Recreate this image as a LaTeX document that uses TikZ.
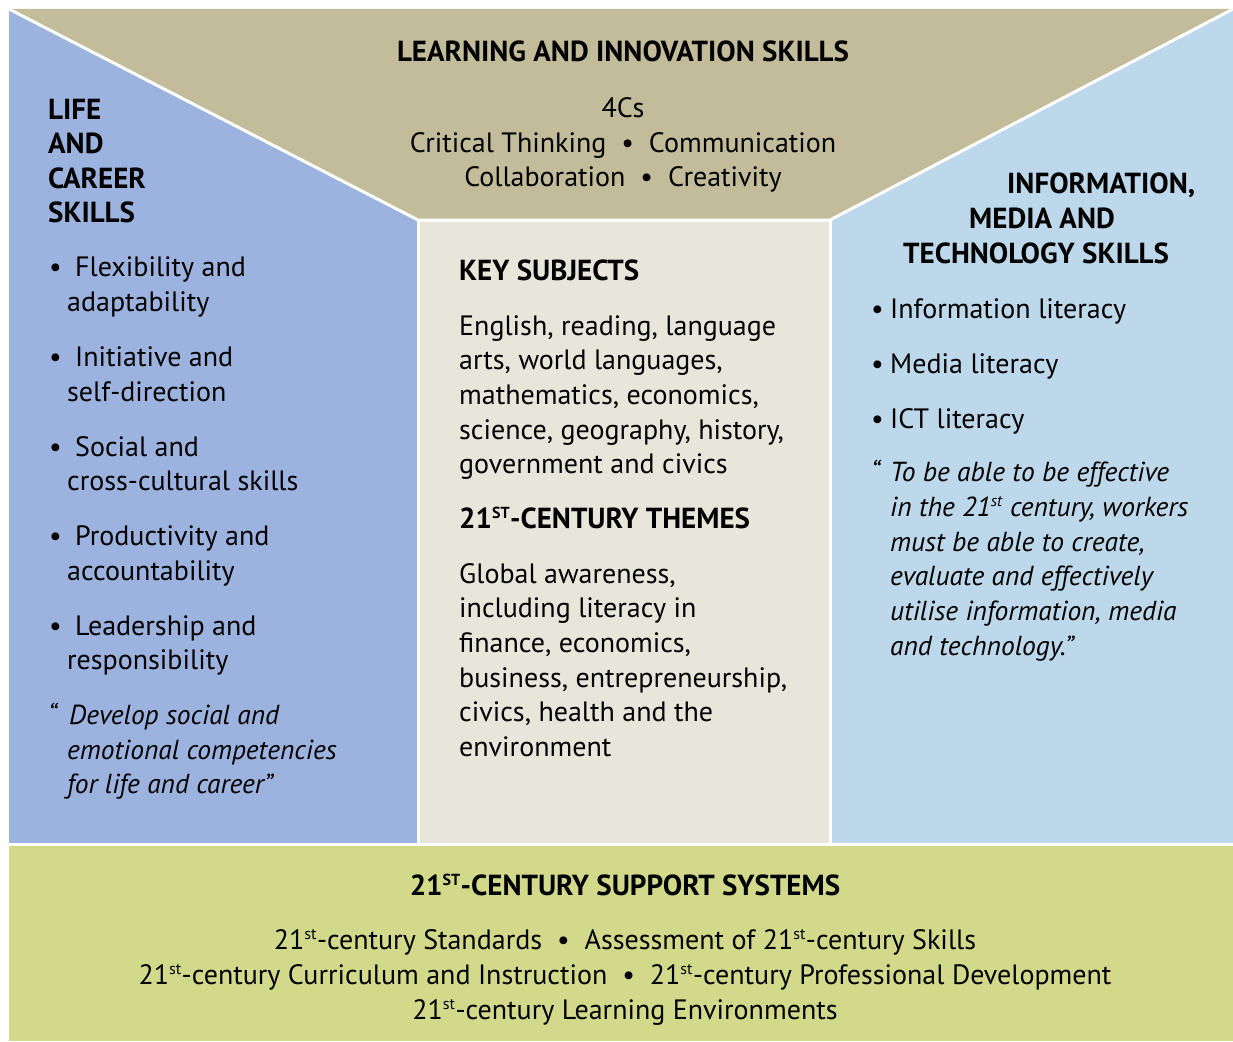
\documentclass[tikz,border=0pt]{standalone}
\usepackage{fontspec}
\setmainfont{PT Sans}
\definecolor{cLeft}{HTML}{9DB3DF}
\definecolor{cTop}{HTML}{C2BC9A}
\definecolor{cRight}{HTML}{BCD8EA}
\definecolor{cMid}{HTML}{E8E6DA}
\definecolor{cBot}{HTML}{D3D98A}
\newcommand{\sups}[1]{\textsuperscript{\fontsize{16}{16}\selectfont #1}}
\tikzset{
  txt/.style={anchor=base west, inner sep=0pt, font=\fontsize{28}{32}\selectfont},
  ctxt/.style={txt, anchor=base},
  hd/.style={txt, font=\fontsize{29}{32}\selectfont\bfseries},
  chd/.style={hd, anchor=base},
  itx/.style={txt, font=\fontsize{27.5}{32}\selectfont\itshape},
  sep/.style={white, line width=3pt}
}
\begin{document}
\begin{tikzpicture}[x=1pt,y=-1pt]
\useasboundingbox (0,0) rectangle (1233,1041);
% panels
\fill[cTop] (9,9) -- (1233,9) -- (830,220) -- (418,220) -- cycle;
\fill[cLeft] (9,9) -- (418,220) -- (418,845) -- (9,845) -- cycle;
\fill[cRight] (1233,9) -- (830,220) -- (830,845) -- (1233,845) -- cycle;
\fill[cMid] (418,220) rectangle (830,845);
\fill[cBot] (9,845) rectangle (1233,1041);
\draw[sep] (9,9) -- (418,220) -- (830,220) -- (1233,9);
\draw[sep] (418,220) -- (418,844.5);
\draw[sep] (830,220) -- (830,844.5);
\draw[sep] (9,844.5) -- (1233,844.5);

% top
\node[chd] (t0) at (623,62) {LEARNING AND INNOVATION SKILLS};
\node[ctxt] (t1) at (623,117) {4Cs};
\node[ctxt] (t2) at (623,152) {Critical Thinking \ \textbullet\ \ Communication};
\node[ctxt] (t3) at (623,186) {Collaboration \ \textbullet\ \ Creativity};

% left
\node[hd] (l0) at (48,119) {LIFE};
\node[hd] (l1) at (48,153) {AND};
\node[hd] (l2) at (48,188) {CAREER};
\node[hd] (l3) at (48,222) {SKILLS};
\node[txt] (lb1) at (49,276) {\textbullet};
\node[txt] (la1) at (75,276) {Flexibility and};
\node[txt] (lc1) at (67,311) {adaptability};
\node[txt] (lb2) at (49,366) {\textbullet};
\node[txt] (la2) at (75,366) {Initiative and};
\node[txt] (lc2) at (67,401) {self-direction};
\node[txt] (lb3) at (49,456) {\textbullet};
\node[txt] (la3) at (75,456) {Social and};
\node[txt] (lc3) at (67,490) {cross-cultural skills};
\node[txt] (lb4) at (49,545) {\textbullet};
\node[txt] (la4) at (75,545) {Productivity and};
\node[txt] (lc4) at (67,580) {accountability};
\node[txt] (lb5) at (49,635) {\textbullet};
\node[txt] (la5) at (75,635) {Leadership and};
\node[txt] (lc5) at (67,669) {responsibility};
\node[itx] (lq0) at (48,724) {“};
\node[itx] (lq1) at (69,724) {Develop social and};
\node[itx] (lq2) at (67,759) {emotional competencies};
\node[itx] (lq3) at (67,793) {for life and career”};

% middle
\node[hd] (m0) at (459,280) {KEY SUBJECTS};
\node[txt] (m1) at (459,335) {English, reading, language};
\node[txt] (m2) at (459,369) {arts, world languages,};
\node[txt] (m3) at (459,404) {mathematics, economics,};
\node[txt] (m4) at (459,439) {science, geography, history,};
\node[txt] (m5) at (459,473) {government and civics};
\node[hd] (m6) at (459,528) {21\sups{ST}-CENTURY THEMES};
\node[txt] (m7) at (459,583) {Global awareness,};
\node[txt] (m8) at (459,617) {including literacy in};
\node[txt] (m9) at (459,652) {finance, economics,};
\node[txt] (m10) at (459,687) {business, entrepreneurship,};
\node[txt] (m11) at (459,721) {civics, health and the};
\node[txt] (m12) at (459,756) {environment};

% right
\node[hd] (r0) at (1007,193) {INFORMATION,};
\node[hd] (r1) at (969,228) {MEDIA AND};
\node[hd] (r2) at (903,263) {TECHNOLOGY SKILLS};
\node[txt] (rb1) at (871,318) {\textbullet};
\node[txt] (ra1) at (890,318) {Information literacy};
\node[txt] (rb2) at (871,373) {\textbullet};
\node[txt] (ra2) at (890,373) {Media literacy};
\node[txt] (rb3) at (871,428) {\textbullet};
\node[txt] (ra3) at (890,428) {ICT literacy};
\node[itx] (rq0) at (871,481) {“};
\node[itx] (rq1) at (890,481) {To be able to be effective};
\node[itx] (rq2) at (890,516) {in the 21\sups{st} century, workers};
\node[itx] (rq3) at (890,551) {must be able to create,};
\node[itx] (rq4) at (890,585) {evaluate and effectively};
\node[itx] (rq5) at (890,620) {utilise information, media};
\node[itx] (rq6) at (890,655) {and technology.”};

% bottom
\node[chd] (b0) at (625,895) {21\sups{ST}-CENTURY SUPPORT SYSTEMS};
\node[ctxt] (b1) at (625,949) {21\sups{st}-century Standards \ \textbullet\ \ Assessment of 21\sups{st}-century Skills};
\node[ctxt] (b2) at (625,984) {21\sups{st}-century Curriculum and Instruction \ \textbullet\ \ 21\sups{st}-century Professional Development};
\node[ctxt] (b3) at (625,1019) {21\sups{st}-century Learning Environments};
\end{tikzpicture}
\end{document}
